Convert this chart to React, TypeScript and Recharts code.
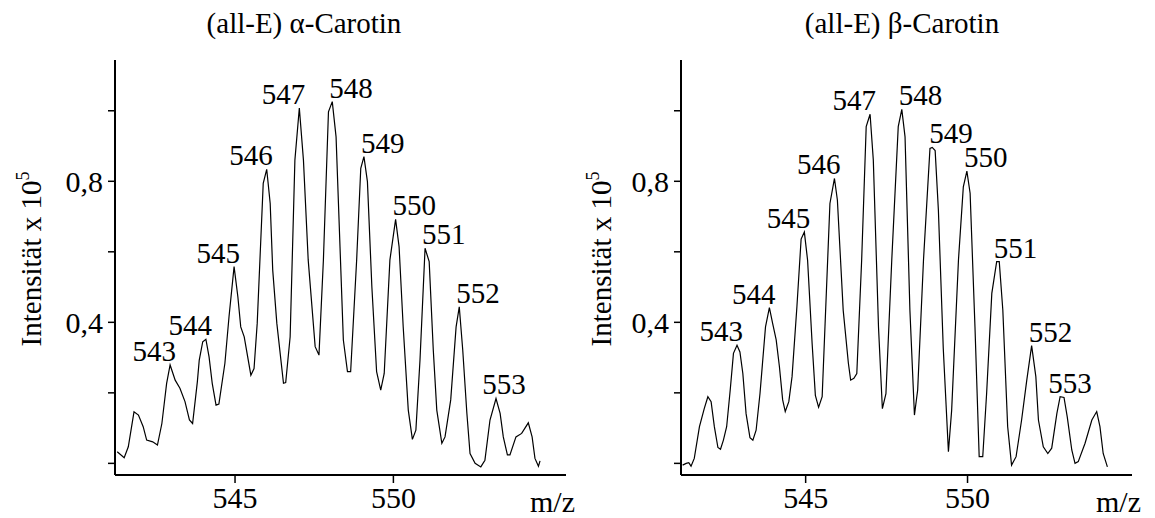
import { LineChart, Line, XAxis, YAxis, LabelList } from 'recharts'

const FONT = '"Liberation Serif", "Times New Roman", serif'

// (all-E) alpha-carotene, intensity x 10^5
const alphaMz = [541.28, 541.50, 541.63, 541.81, 541.95, 542.10, 542.21, 542.40, 542.55, 542.69,
  542.84, 542.95, 543.11, 543.26, 543.42, 543.56, 543.66, 543.81, 543.87, 543.98,
  544.08, 544.18, 544.28, 544.40, 544.49, 544.68, 544.81, 544.97, 545.09, 545.18,
  545.29, 545.50, 545.60, 545.70, 545.89, 546.00, 546.11, 546.19, 546.32, 546.53,
  546.60, 546.74, 546.89, 547.03, 547.16, 547.31, 547.53, 547.65, 547.79, 547.95,
  548.07, 548.19, 548.42, 548.55, 548.65, 548.84, 548.97, 549.07, 549.18, 549.32,
  549.47, 549.60, 549.71, 549.89, 550.07, 550.18, 550.31, 550.47, 550.60, 550.71,
  550.84, 551.00, 551.13, 551.26, 551.37, 551.53, 551.63, 551.81, 551.98, 552.08,
  552.19, 552.32, 552.42, 552.58, 552.76, 552.89, 553.05, 553.24, 553.37, 553.47,
  553.60, 553.68, 553.87, 554.05, 554.26, 554.38, 554.47, 554.58, 554.63]
const alphaInt = [0.033, 0.016, 0.047, 0.146, 0.137, 0.104, 0.066, 0.061, 0.052, 0.113,
  0.227, 0.279, 0.236, 0.213, 0.175, 0.123, 0.113, 0.231, 0.293, 0.345,
  0.352, 0.302, 0.227, 0.165, 0.168, 0.284, 0.416, 0.558, 0.472, 0.387,
  0.359, 0.250, 0.269, 0.397, 0.794, 0.834, 0.737, 0.548, 0.397, 0.227,
  0.229, 0.359, 0.860, 1.008, 0.860, 0.577, 0.331, 0.307, 0.577, 0.997,
  1.026, 0.926, 0.350, 0.260, 0.260, 0.577, 0.837, 0.870, 0.799, 0.501,
  0.260, 0.208, 0.255, 0.577, 0.692, 0.614, 0.387, 0.151, 0.068, 0.094,
  0.293, 0.610, 0.572, 0.321, 0.151, 0.057, 0.075, 0.180, 0.387, 0.444,
  0.321, 0.142, 0.028, 0.000, -0.010, 0.009, 0.123, 0.184, 0.142, 0.075,
  0.024, 0.024, 0.075, 0.085, 0.115, 0.075, 0.014, -0.008, 0.007]
const alphaPeakMz = [542.95, 544.08, 544.97, 546.00, 547.03, 548.07, 549.07, 550.07, 551.00, 552.08, 553.24]
const alphaPeakInt = [0.279, 0.352, 0.558, 0.834, 1.008, 1.026, 0.870, 0.692, 0.610, 0.444, 0.184]

// (all-E) beta-carotene
const betaMz = [541.20, 541.31, 541.39, 541.46, 541.56, 541.72, 541.87, 541.98, 542.08, 542.18,
  542.29, 542.37, 542.46, 542.56, 542.67, 542.77, 542.88, 542.97, 543.06, 543.16,
  543.28, 543.37, 543.47, 543.59, 543.76, 543.88, 543.98, 544.09, 544.19, 544.29,
  544.37, 544.48, 544.58, 544.73, 544.86, 544.96, 545.06, 545.20, 545.30, 545.40,
  545.51, 545.75, 545.89, 545.98, 546.16, 546.32, 546.39, 546.49, 546.58, 546.73,
  546.87, 546.99, 547.09, 547.25, 547.37, 547.48, 547.66, 547.86, 547.97, 548.07,
  548.22, 548.36, 548.46, 548.64, 548.84, 548.91, 549.00, 549.10, 549.25, 549.41,
  549.51, 549.72, 549.87, 549.98, 550.08, 550.23, 550.36, 550.47, 550.59, 550.75,
  550.90, 550.98, 551.09, 551.24, 551.36, 551.50, 551.67, 551.83, 551.98, 552.11,
  552.19, 552.34, 552.48, 552.60, 552.76, 552.86, 552.98, 553.08, 553.22, 553.32,
  553.42, 553.63, 553.84, 553.99, 554.09, 554.19, 554.32]
const betaInt = [-0.005, 0.000, 0.002, -0.008, 0.014, 0.104, 0.156, 0.189, 0.175, 0.104,
  0.045, 0.040, 0.066, 0.104, 0.208, 0.312, 0.335, 0.316, 0.255, 0.141,
  0.073, 0.066, 0.094, 0.198, 0.387, 0.442, 0.397, 0.350, 0.274, 0.180,
  0.147, 0.175, 0.246, 0.444, 0.636, 0.656, 0.576, 0.340, 0.193, 0.159,
  0.189, 0.737, 0.808, 0.747, 0.434, 0.284, 0.236, 0.241, 0.255, 0.577,
  0.955, 0.990, 0.860, 0.387, 0.155, 0.198, 0.577, 0.955, 1.004, 0.926,
  0.435, 0.137, 0.208, 0.577, 0.893, 0.896, 0.887, 0.718, 0.327, 0.033,
  0.151, 0.577, 0.784, 0.829, 0.766, 0.387, 0.019, 0.019, 0.199, 0.482,
  0.572, 0.572, 0.435, 0.104, -0.005, 0.019, 0.123, 0.236, 0.334, 0.246,
  0.123, 0.047, 0.028, 0.043, 0.142, 0.189, 0.187, 0.132, 0.038, 0.000,
  0.005, 0.057, 0.123, 0.147, 0.104, 0.028, -0.010]
const betaPeakMz = [542.88, 543.88, 544.96, 545.89, 546.99, 547.97, 548.91, 549.98, 550.90, 551.98, 552.92]
const betaPeakInt = [0.335, 0.442, 0.656, 0.808, 0.990, 1.004, 0.896, 0.829, 0.572, 0.334, 0.189]

const peakLabels = ['543', '544', '545', '546', '547', '548', '549', '550', '551', '552', '553']
const xTicks = [545, 550]
const yTicks = [0, 0.2, 0.4, 0.6, 0.8, 1.0]
const yTickText: Record<string, string> = { '0.4': '0,4', '0.8': '0,8' }

function PeakLabel(props: any) {
  const { x, y, value } = props
  const n = Number(value)
  let anchor = 'middle'
  let dx = 8
  if (n <= 547) { anchor = 'end'; dx = 6 }
  else if (n <= 552) { anchor = 'start'; dx = -3 }
  return (
    <text x={x + dx} y={y - 4} textAnchor={anchor} fontSize={29} fontFamily={FONT} fill="#000">
      {value}
    </text>
  )
}

interface PanelProps {
  title: string
  mz: number[]
  intensity: number[]
  peakMz: number[]
  peakInt: number[]
  xDomain: [number, number]
  left: number
  width: number
  marginLeft: number
  marginRight: number
  titleX: number
  yLabelX: number
}

function Panel(p: PanelProps) {
  const curve = p.mz.map((m, i) => ({ mz: m, v: p.intensity[i] }))
  const peaks = p.peakMz.map((m, i) => ({ mz: m, v: p.peakInt[i], name: peakLabels[i] }))

  return (
    <div style={{ position: 'absolute', left: p.left, top: 0, width: p.width, height: 518 }}>
      <div style={{ position: 'absolute', left: p.titleX - 150, top: 9, width: 300, textAlign: 'center', fontFamily: FONT, fontSize: 29, lineHeight: '29px', color: '#000', whiteSpace: 'nowrap' }}>
        {p.title}
      </div>
      <LineChart width={p.width} height={518} margin={{ top: 60, right: p.marginRight, bottom: 0, left: p.marginLeft }}>
        <XAxis
          type="number"
          dataKey="mz"
          domain={p.xDomain}
          ticks={xTicks}
          allowDataOverflow
          height={43}
          tickSize={8}
          tickMargin={4}
          axisLine={{ stroke: '#000', strokeWidth: 2 }}
          tickLine={{ stroke: '#000', strokeWidth: 1.5 }}
          tick={{ fill: '#000', fontSize: 30, fontFamily: FONT }}
          label={(props: any) => {
            const vb = props.viewBox
            return (
              <text x={vb.x + vb.width - 36} y={512} fontSize={30} fontFamily={FONT} fill="#000">m/z</text>
            )
          }}
        />
        <YAxis
          type="number"
          domain={[-0.033, 1.144]}
          ticks={yTicks}
          allowDataOverflow
          width={60}
          tickSize={7}
          tickMargin={5}
          tickFormatter={(v: number) => yTickText[String(v)] ?? ''}
          axisLine={{ stroke: '#000', strokeWidth: 2 }}
          tickLine={{ stroke: '#000', strokeWidth: 1.5 }}
          tick={{ fill: '#000', fontSize: 30, fontFamily: FONT }}
          label={() => (
            <text
              transform={`translate(${p.yLabelX},259) rotate(-90)`}
              textAnchor="middle"
              fontSize={29}
              fontFamily={FONT}
              fill="#000"
            >
              Intensität x 10<tspan dy={-12} fontSize={18}>5</tspan>
            </text>
          )}
        />
        <Line
          data={curve}
          dataKey="v"
          type="linear"
          stroke="#000"
          strokeWidth={1.2}
          dot={false}
          isAnimationActive={false}
        />
        <Line
          data={peaks}
          dataKey="v"
          stroke="none"
          dot={false}
          activeDot={false}
          isAnimationActive={false}
        >
          <LabelList dataKey="name" content={PeakLabel} />
        </Line>
      </LineChart>
    </div>
  )
}

export default function App() {
  return (
    <div style={{ position: 'absolute', left: 0, top: 0, width: 1155, height: 518, background: '#fff' }}>
      <Panel
        title="(all-E) α-Carotin"
        mz={alphaMz}
        intensity={alphaInt}
        peakMz={alphaPeakMz}
        peakInt={alphaPeakInt}
        xDomain={[541.21, 555.45]}
        left={0}
        width={578}
        marginLeft={55}
        marginRight={12}
        titleX={304}
        yLabelX={41}
      />
      <Panel
        title="(all-E) β-Carotin"
        mz={betaMz}
        intensity={betaInt}
        peakMz={betaPeakMz}
        peakInt={betaPeakInt}
        xDomain={[541.15, 555.08]}
        left={578}
        width={577}
        marginLeft={43}
        marginRight={23}
        titleX={324}
        yLabelX={33}
      />
    </div>
  )
}
